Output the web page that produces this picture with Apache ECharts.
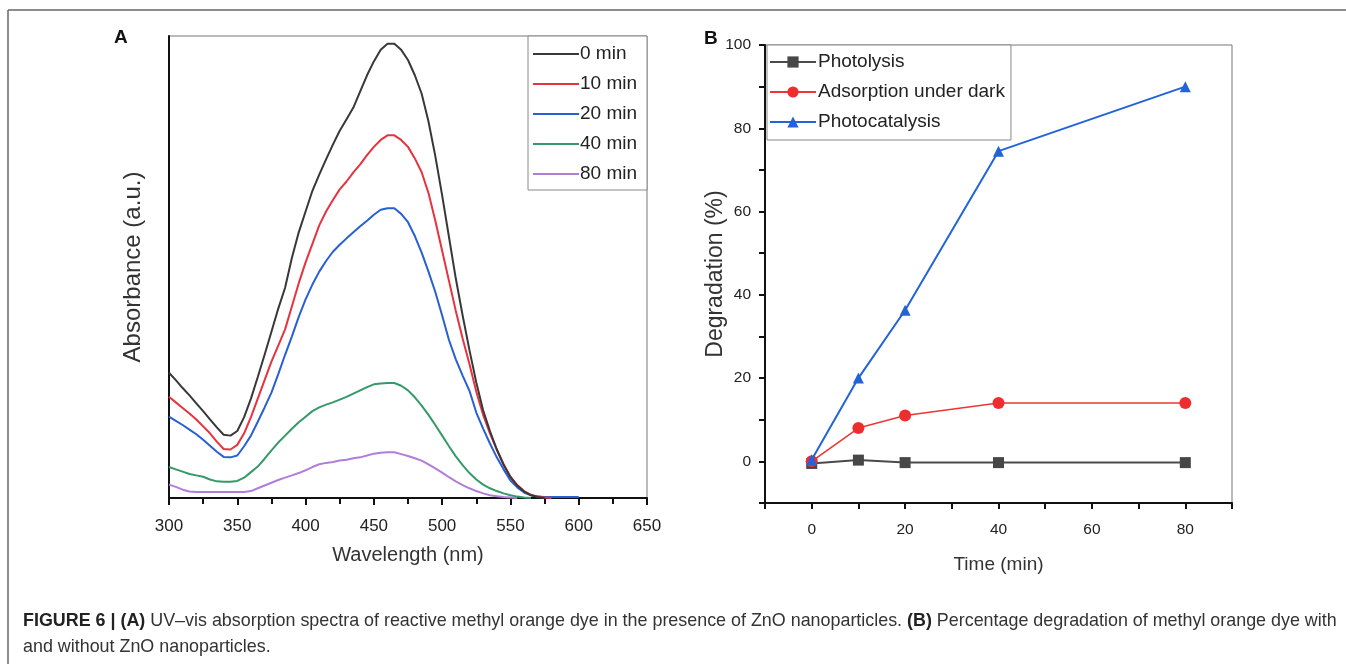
<!DOCTYPE html>
<html>
<head>
<meta charset="utf-8">
<script src="https://cdn.jsdelivr.net/npm/echarts@6/dist/echarts.min.js"></script>
<style>
  html, body { margin: 0; padding: 0; background: #fff; }
  #chart { width: 1346px; height: 664px; }
</style>
</head>
<body>
<div id="chart"></div>
<script>
// Panel A: UV-vis spectra, absorbance (a.u.) sampled every 5 nm
const wavelengths = [300, 305, 310, 315, 320, 325, 330, 335, 340, 345, 350, 355, 360, 365, 370, 375, 380, 385, 390, 395,
    400, 405, 410, 415, 420, 425, 430, 435, 440, 445, 450, 455, 460, 465, 470, 475, 480, 485, 490, 495,
    500, 505, 510, 515, 520, 525, 530, 535, 540, 545, 550, 555, 560, 565, 570, 575, 580, 585, 590, 595, 600];

const abs0 = [0.271, 0.255, 0.238, 0.222, 0.205, 0.188, 0.170, 0.153, 0.137, 0.135, 0.145, 0.175, 0.215, 0.262, 0.310, 0.360, 0.410, 0.455, 0.520, 0.575,
    0.620, 0.665, 0.700, 0.733, 0.765, 0.795, 0.820, 0.845, 0.880, 0.915, 0.945, 0.970, 0.983, 0.983, 0.970, 0.948, 0.915, 0.875, 0.815, 0.740,
    0.655, 0.565, 0.475, 0.395, 0.320, 0.250, 0.190, 0.145, 0.105, 0.072, 0.045, 0.027, 0.014, 0.006, 0.002, 0.000];
const abs10 = [0.219, 0.207, 0.195, 0.183, 0.170, 0.155, 0.140, 0.122, 0.106, 0.105, 0.115, 0.140, 0.175, 0.215, 0.255, 0.295, 0.330, 0.365, 0.415, 0.465,
    0.510, 0.550, 0.590, 0.620, 0.645, 0.668, 0.685, 0.705, 0.722, 0.742, 0.760, 0.775, 0.785, 0.785, 0.775, 0.760, 0.735, 0.705, 0.660, 0.600,
    0.535, 0.470, 0.405, 0.345, 0.290, 0.230, 0.180, 0.140, 0.105, 0.073, 0.046, 0.028, 0.015, 0.007, 0.003, 0.001, 0.000];
const abs20 = [0.176, 0.167, 0.158, 0.148, 0.138, 0.126, 0.113, 0.100, 0.089, 0.088, 0.092, 0.112, 0.135, 0.165, 0.196, 0.228, 0.268, 0.310, 0.350, 0.392,
    0.430, 0.462, 0.490, 0.513, 0.533, 0.548, 0.562, 0.575, 0.588, 0.600, 0.613, 0.624, 0.627, 0.627, 0.615, 0.597, 0.567, 0.531, 0.490, 0.446,
    0.395, 0.342, 0.300, 0.265, 0.232, 0.185, 0.150, 0.118, 0.088, 0.062, 0.038, 0.023, 0.012, 0.006, 0.003, 0.002, 0.002, 0.002, 0.002, 0.002, 0.002];
const abs40 = [0.067, 0.062, 0.057, 0.052, 0.049, 0.046, 0.040, 0.036, 0.035, 0.035, 0.037, 0.044, 0.056, 0.068, 0.085, 0.103, 0.120, 0.135, 0.150, 0.164,
    0.176, 0.188, 0.196, 0.202, 0.207, 0.213, 0.219, 0.226, 0.233, 0.240, 0.246, 0.248, 0.249, 0.249, 0.243, 0.233, 0.218, 0.200, 0.180, 0.158,
    0.135, 0.112, 0.090, 0.071, 0.054, 0.040, 0.029, 0.021, 0.015, 0.010, 0.006, 0.003, 0.001, 0.000];
const abs80 = [0.029, 0.024, 0.018, 0.014, 0.013, 0.013, 0.013, 0.013, 0.013, 0.013, 0.013, 0.013, 0.015, 0.021, 0.027, 0.033, 0.039, 0.044, 0.049, 0.054,
    0.060, 0.067, 0.073, 0.076, 0.078, 0.081, 0.083, 0.086, 0.088, 0.092, 0.096, 0.098, 0.099, 0.099, 0.095, 0.091, 0.086, 0.081, 0.073, 0.064,
    0.055, 0.045, 0.036, 0.028, 0.021, 0.015, 0.010, 0.006, 0.004, 0.002, 0.001, 0.000];

const spectraNames = ['0 min', '10 min', '20 min', '40 min', '80 min'];
const spectraColors = ['#383838', '#e8323e', '#2760d4', '#35996a', '#b07ed8'];
const spectra = [abs0, abs10, abs20, abs40, abs80];

// Panel B: degradation (%) vs time
const times = [0, 10, 20, 40, 80];
const photolysis = [-0.5, 0.3, -0.3, -0.3, -0.3];
const adsorption = [0, 8, 11, 14, 14];
const photocatalysis = [0.4, 20, 36.3, 74.5, 90];

const FONT = '"Liberation Sans", Arial, sans-serif';

function pairs(xs, ys) {
    return ys.map((y, i) => [xs[i], y]);
}

const chart = echarts.init(document.getElementById('chart'), null, { renderer: 'canvas' });

const spectraSeries = spectra.map((vals, i) => ({
    name: spectraNames[i],
    type: 'line',
    xAxisIndex: 0,
    yAxisIndex: 0,
    symbol: 'none',
    data: pairs(wavelengths, vals),
    lineStyle: { color: spectraColors[i], width: 2 },
    itemStyle: { color: spectraColors[i] },
    z: 10 - i
}));

const evenTwenty = v => (v >= 0 && v % 20 === 0) ? String(v) : '';

const option = {
    animation: false,
    backgroundColor: '#fff',
    textStyle: { fontFamily: FONT },
    grid: [
        { left: 169, top: 36, width: 478, height: 462, show: true, borderColor: '#777', borderWidth: 1, backgroundColor: 'transparent' },
        { left: 765, top: 45, width: 467, height: 458, show: true, borderColor: '#777', borderWidth: 1, backgroundColor: 'transparent' }
    ],
    xAxis: [
        {
            gridIndex: 0, type: 'value', min: 300, max: 650, interval: 50,
            name: 'Wavelength (nm)', nameLocation: 'middle', nameGap: 47, nameMoveOverlap: false,
            nameTextStyle: { fontSize: 20, color: '#333', fontFamily: FONT },
            axisLine: { onZero: false, lineStyle: { color: '#111', width: 2 } },
            axisTick: { inside: false, length: 7, lineStyle: { color: '#111', width: 2 } },
            minorTick: { show: true, splitNumber: 2, length: 6, lineStyle: { color: '#111', width: 2 } },
            axisLabel: { fontSize: 17, color: '#222', margin: 20, fontFamily: FONT },
            splitLine: { show: false }
        },
        {
            gridIndex: 1, type: 'value', min: -10, max: 90, interval: 10,
            name: 'Time (min)', nameLocation: 'middle', nameGap: 52, nameMoveOverlap: false,
            nameTextStyle: { fontSize: 19, color: '#333', fontFamily: FONT },
            axisLine: { onZero: false, lineStyle: { color: '#111', width: 2 } },
            axisTick: { length: 6, lineStyle: { color: '#111', width: 2 } },
            axisLabel: { fontSize: 15.5, color: '#222', margin: 19, fontFamily: FONT, formatter: evenTwenty, showMinLabel: true, showMaxLabel: true },
            splitLine: { show: false }
        }
    ],
    yAxis: [
        {
            gridIndex: 0, type: 'value', min: 0, max: 1,
            name: 'Absorbance (a.u.)', nameLocation: 'middle', nameGap: 24, nameMoveOverlap: false,
            nameTextStyle: { fontSize: 24, color: '#333', fontFamily: FONT },
            axisLine: { show: true, onZero: false, lineStyle: { color: '#111', width: 2 } },
            axisTick: { show: false },
            axisLabel: { show: false },
            splitLine: { show: false }
        },
        {
            gridIndex: 1, type: 'value', min: -10, max: 100, interval: 10,
            name: 'Degradation (%)', nameLocation: 'middle', nameGap: 38, nameMoveOverlap: false,
            nameTextStyle: { fontSize: 23, color: '#333', fontFamily: FONT },
            axisLine: { show: true, onZero: false, lineStyle: { color: '#111', width: 2 } },
            axisTick: { length: 6, lineStyle: { color: '#111', width: 2 } },
            axisLabel: { fontSize: 15.5, color: '#222', margin: 14, fontFamily: FONT, formatter: evenTwenty, showMinLabel: true, showMaxLabel: true },
            splitLine: { show: false }
        }
    ],
    legend: [
        {
            data: spectraNames.map(n => ({ name: n, icon: 'rect' })),
            orient: 'vertical',
            left: 528, top: 36,
            padding: [8, 10, 6, 5],
            itemWidth: 46, itemHeight: 2, itemGap: 10,
            backgroundColor: '#fff',
            borderColor: '#888', borderWidth: 1, borderRadius: 0,
            textStyle: { fontSize: 19, color: '#222', fontFamily: FONT, lineHeight: 20, padding: [0, 0, 0, -4] }
        },
        {
            data: ['Photolysis', 'Adsorption under dark', 'Photocatalysis'],
            orient: 'vertical',
            left: 767, top: 45,
            padding: [7, 6, 8, 2],
            itemWidth: 46, itemHeight: 14, itemGap: 10,
            backgroundColor: '#fff',
            borderColor: '#888', borderWidth: 1, borderRadius: 0,
            textStyle: { fontSize: 19, color: '#222', fontFamily: FONT, lineHeight: 20, padding: [0, 0, 0, -3] }
        }
    ],
    series: spectraSeries.concat([
        {
            name: 'Photolysis', type: 'line', xAxisIndex: 1, yAxisIndex: 1,
            data: pairs(times, photolysis),
            symbol: 'rect', symbolSize: 11,
            lineStyle: { color: '#4a4a4a', width: 2 },
            itemStyle: { color: '#474747' },
            z: 3
        },
        {
            name: 'Adsorption under dark', type: 'line', xAxisIndex: 1, yAxisIndex: 1,
            data: pairs(times, adsorption),
            symbol: 'circle', symbolSize: 12,
            lineStyle: { color: '#ee3434', width: 1.5 },
            itemStyle: { color: '#ee2e2e' },
            z: 4
        },
        {
            name: 'Photocatalysis', type: 'line', xAxisIndex: 1, yAxisIndex: 1,
            data: pairs(times, photocatalysis),
            symbol: 'triangle', symbolSize: 11,
            lineStyle: { color: '#2263d8', width: 2 },
            itemStyle: { color: '#2263d8' },
            z: 5
        }
    ]),
    graphic: [
        // outer figure frame (top and left edges visible)
        { type: 'line', shape: { x1: 8, y1: 10, x2: 1346, y2: 10 }, style: { stroke: '#666', lineWidth: 1.5 } },
        { type: 'line', shape: { x1: 8, y1: 10, x2: 8, y2: 664 }, style: { stroke: '#666', lineWidth: 1.5 } },
        { type: 'text', left: 114, top: 28, style: { text: 'A', font: 'bold 19px ' + FONT, fill: '#111' } },
        { type: 'text', left: 704, top: 29, style: { text: 'B', font: 'bold 19px ' + FONT, fill: '#111' } },
        {
            type: 'text', left: 23, top: 612,
            style: {
                text: '{b|FIGURE 6 | (A)} UV–vis absorption spectra of reactive methyl orange dye in the presence of ZnO nanoparticles. {b|(B)} Percentage degradation of methyl orange dye with',
                font: '17.9px ' + FONT, fill: '#333',
                rich: { b: { fontWeight: 'bold', fontSize: 17.9, fontFamily: FONT, fill: '#222' } }
            }
        },
        {
            type: 'text', left: 23, top: 638,
            style: { text: 'and without ZnO nanoparticles.', font: '17.9px ' + FONT, fill: '#333' }
        }
    ]
};

chart.setOption(option);
</script>
</body>
</html>
